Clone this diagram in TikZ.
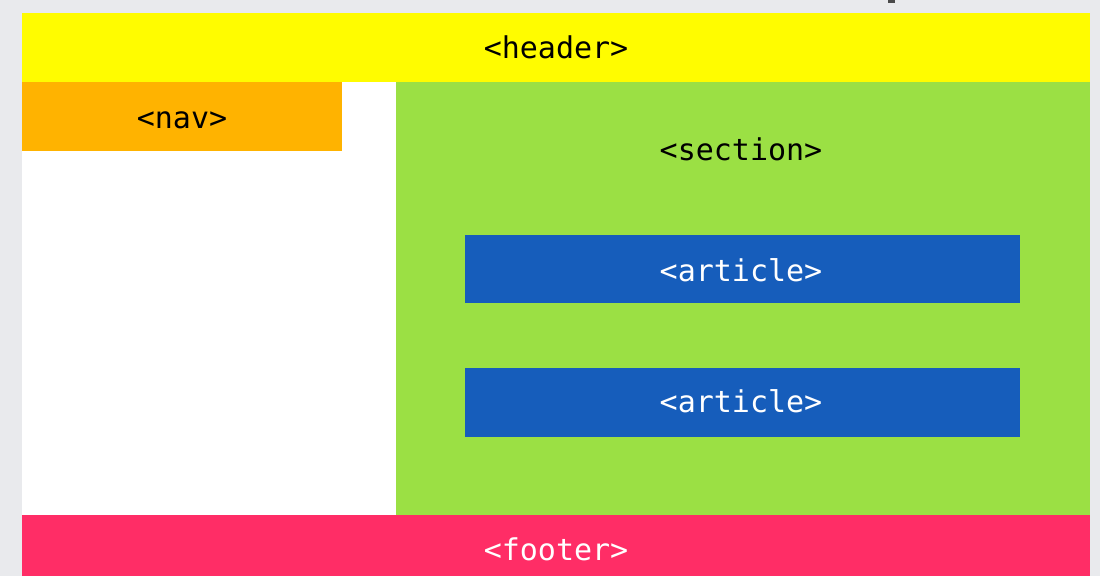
\documentclass[tikz,border=0pt]{standalone}
\usepackage{fontspec}
\newfontfamily\tagfont{DejaVu Sans Mono}
\definecolor{pagebg}{HTML}{E9EAED}
\definecolor{headeryellow}{HTML}{FFFC00}
\definecolor{navorange}{HTML}{FFB300}
\definecolor{sectiongreen}{HTML}{9BE044}
\definecolor{articleblue}{HTML}{165DBB}
\definecolor{footerpink}{HTML}{FF2D66}
\definecolor{markgray}{HTML}{4A4A4A}
\tikzset{
  region/.style={draw=none, inner sep=0pt, outer sep=0pt, rectangle},
  tag/.style={anchor=base, inner sep=0pt, font=\tagfont\fontsize{30}{30}\selectfont},
}
\begin{document}
\begin{tikzpicture}[x=1pt, y=-1pt]
  % page
  \fill[pagebg] (0,0) rectangle (1100,576);
  \useasboundingbox (0,0) rectangle (1100,576);
  \fill[markgray] (888,0) rectangle (895,3);

  % layout regions
  \node[region, fill=white, minimum width=374, minimum height=433] (body) at (209,298.5) {};
  \node[region, fill=headeryellow, minimum width=1068, minimum height=69] (header) at (556,47.5) {};
  \node[region, fill=navorange, minimum width=320, minimum height=69] (nav) at (182,116.5) {};
  \node[region, fill=sectiongreen, minimum width=694, minimum height=433] (section) at (743,298.5) {};
  \node[region, fill=articleblue, minimum width=555, minimum height=68] (article1) at (742.5,269) {};
  \node[region, fill=articleblue, minimum width=555, minimum height=69] (article2) at (742.5,402.5) {};
  \node[region, fill=footerpink, minimum width=1068, minimum height=61] (footer) at (556,545.5) {};

  % labels
  \node[tag] (headerlabel) at (556,58) {<header>};
  \node[tag] (navlabel) at (182,128) {<nav>};
  \node[tag] (sectionlabel) at (741,160) {<section>};
  \node[tag, text=white] (article1label) at (741,281) {<article>};
  \node[tag, text=white] (article2label) at (741,412) {<article>};
  \node[tag, text=white] (footerlabel) at (556,560) {<footer>};
\end{tikzpicture}
\end{document}
